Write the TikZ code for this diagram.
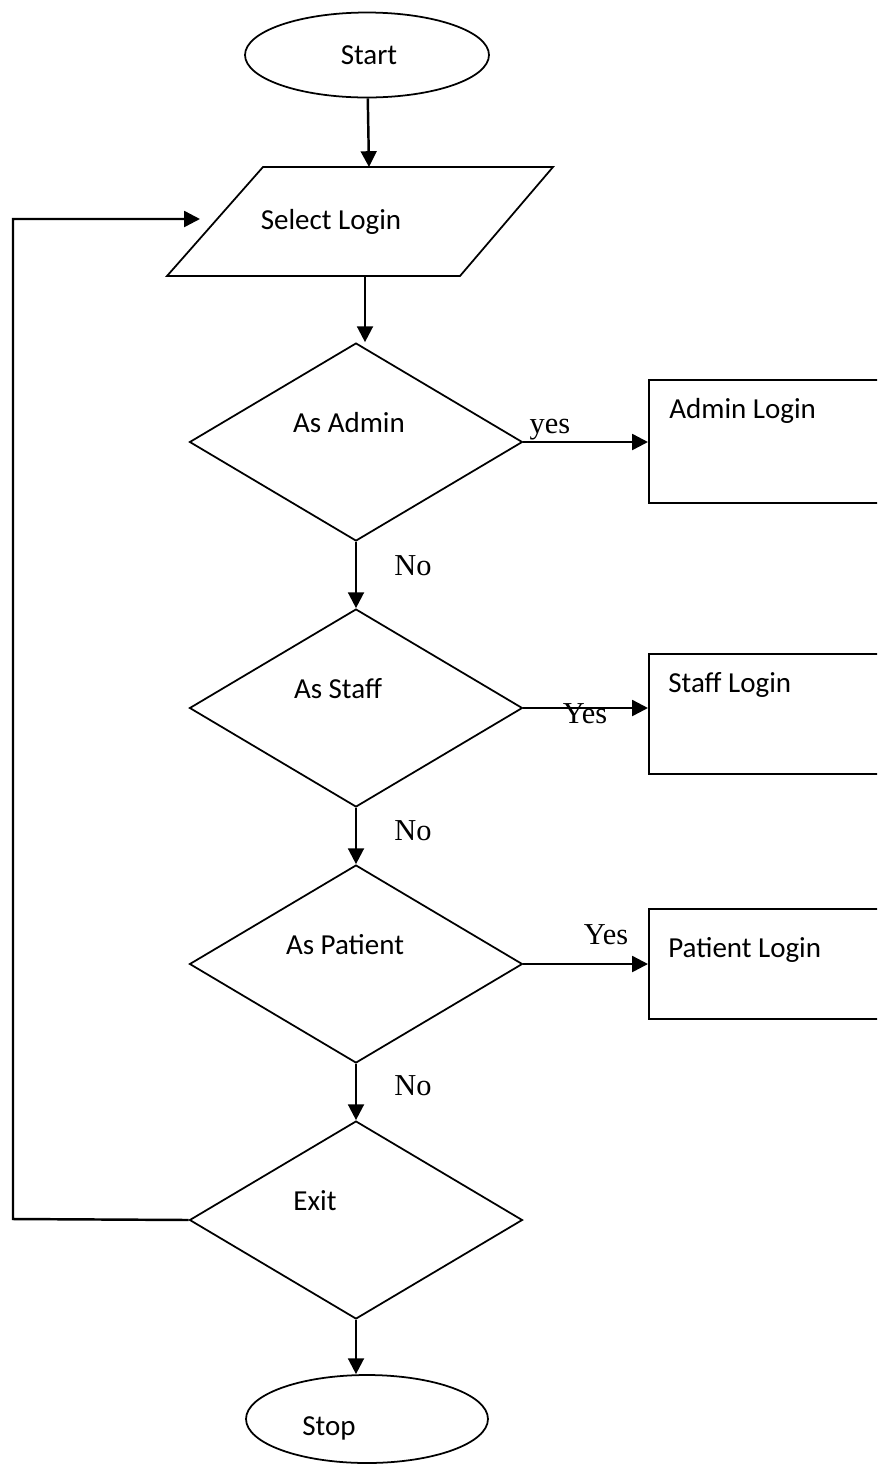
\documentclass[tikz,border=0pt]{standalone}
\usepackage{fontspec}
\setmainfont{Carlito}
\newfontfamily\answerfont{Liberation Serif}
\usetikzlibrary{arrows.meta,shapes.geometric}

\begin{document}
\begin{tikzpicture}[x=0.02cm, y=-0.02cm,
    every node/.style={
        inner sep=0pt,
        font=\fontsize{16.5}{19}\selectfont
    },
    outline/.style={draw, line width=1pt},
    decision/.style={outline, diamond, minimum width=6.66cm, minimum height=3.96cm},
    terminal/.style={outline, ellipse, minimum width=4.88cm, minimum height=1.7cm},
    loginbox/.style={outline, rectangle, anchor=north west, minimum width=5.6cm},
    caption/.style={anchor=base},
    answer/.style={anchor=base, font=\answerfont\fontsize{17.3}{20}\selectfont},
    flow/.style={-{Triangle[length=9pt, width=9pt]}, line width=1.4pt}
]
    \clip (0,0) rectangle (877,1465);

    \node (start) [terminal, shift={(367,55)}]
    {};
    \node (start_txt) [caption, shift={(369,64)}]
    {
        Start
    };

    % select login (parallelogram)
    \coordinate (sl_nw) at (263,167);
    \coordinate (sl_ne) at (553,167);
    \coordinate (sl_se) at (460,276);
    \coordinate (sl_sw) at (167,276);
    \coordinate (sl_top) at (369,167);
    \coordinate (sl_bot) at (365,276);
    \coordinate (sl_in) at (200,219);
    \draw[outline] (sl_nw) -- (sl_ne) -- (sl_se) -- (sl_sw) -- cycle;
    \node (select_txt) [caption, shift={(331,229)}]
    {
        Select Login
    };


    \node (as_admin) [decision, shift={(356,442)}]
    {};
    \node (as_admin_txt) [caption, shift={(349,432)}]
    {
        As Admin
    };

    \node (as_staff) [decision, shift={(356,708)}]
    {};
    \node (as_staff_txt) [caption, shift={(338,698)}]
    {
        As Staff
    };

    \node (as_patient) [decision, shift={(356,964)}]
    {};
    \node (as_patient_txt) [caption, shift={(345,954)}]
    {
        As Patient
    };

    \node (exit) [decision, shift={(356,1220)}]
    {};
    \node (exit_txt) [caption, shift={(315,1210)}]
    {
        Exit
    };

    \node (stop) [terminal, minimum width=4.84cm, minimum height=1.76cm, shift={(367,1419)}]
    {};
    \node (stop_txt) [caption, shift={(329,1435)}]
    {
        Stop
    };


    \node (admin_login) [loginbox, minimum height=2.46cm, shift={(648,379)}]
    {};
    \node (admin_login_txt) [caption, anchor=base west, shift={(669,418)}]
    {
        Admin Login
    };

    \node (staff_login) [loginbox, minimum height=2.4cm, shift={(648,653)}]
    {};
    \node (staff_login_txt) [caption, anchor=base west, shift={(668,692)}]
    {
        Staff Login
    };

    \node (patient_login) [loginbox, minimum height=2.2cm, shift={(648,908)}]
    {};
    \node (patient_login_txt) [caption, anchor=base west, shift={(668,957)}]
    {
        Patient Login
    };


    \node (yes_admin) [answer, shift={(550,433)}] {yes};
    \node (yes_staff) [answer, shift={(585,723)}] {Yes};
    \node (yes_patient) [answer, shift={(606,944)}] {Yes};
    \node (no_admin) [answer, shift={(413,575)}] {No};
    \node (no_staff) [answer, shift={(413,840)}] {No};
    \node (no_patient) [answer, shift={(413,1095)}] {No};

    \coordinate (loop_bl) at (13,1219);
    \coordinate (loop_tl) at (13,219);

    \draw[flow] (start) to (sl_top);
    \draw[flow] (sl_bot) to (sl_bot |- as_admin.north);
    \draw[flow] (as_admin.south) to (as_staff.north);
    \draw[flow] (as_staff.south) to (as_patient.north);
    \draw[flow] (as_patient.south) to (exit.north);
    \draw[flow] (exit.south) to (exit.south |- stop.north);

    \draw[flow] (as_admin.east) to (admin_login.west |- as_admin.east);
    \draw[flow] (as_staff.east) to (staff_login.west |- as_staff.east);
    \draw[flow] (as_patient.east) to (patient_login.west |- as_patient.east);

    \draw[flow] (exit.west) -- (loop_bl) -- (loop_tl) -- (sl_in);

\end{tikzpicture}
\end{document}
